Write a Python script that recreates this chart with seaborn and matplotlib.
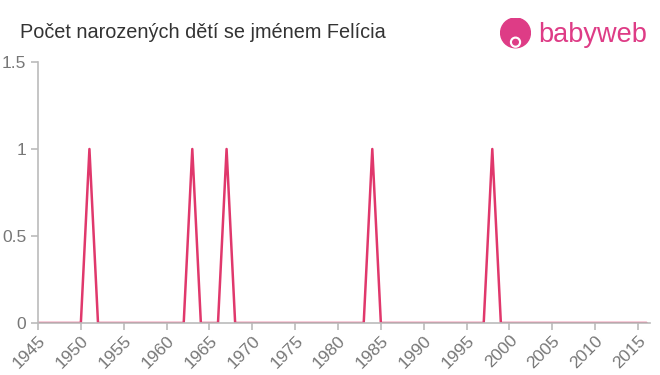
import matplotlib
matplotlib.use("Agg")
import matplotlib.pyplot as plt
import seaborn as sns
import pandas as pd
from matplotlib.patches import Circle

years = list(range(1945, 2017))
peak_years = [1951, 1963, 1967, 1984, 1998]
peak_values = [1, 1, 1, 1, 1]
counts = [peak_values[peak_years.index(y)] if y in peak_years else 0 for y in years]
xticks = list(range(1945, 2020, 5))
yticks = [0, 0.5, 1, 1.5]
ytick_labels = ["0", "0.5", "1", "1.5"]

df = pd.DataFrame({"rok": years, "pocet": counts})

sns.set_style("white")
plt.rcParams['font.family'] = ['Liberation Sans', 'DejaVu Sans']

fig = plt.figure(figsize=(6.6, 3.75), dpi=100)
ax = fig.add_axes([38/660, 1 - 323/375, (650-38)/660, (323-62)/375])

sns.lineplot(data=df, x="rok", y="pocet", ax=ax, color="#e0386c", linewidth=1.8)

ax.set_xlim(1945, 2016.4)
ax.set_ylim(0, 1.5)
ax.set_xticks(xticks)
ax.set_xticklabels([str(x) for x in xticks], rotation=45, ha="right", rotation_mode="anchor")
ax.set_yticks(yticks)
ax.set_yticklabels(ytick_labels)
ax.set_xlabel("")
ax.set_ylabel("")
for s in ["top", "right"]:
    ax.spines[s].set_visible(False)
for s in ["left", "bottom"]:
    ax.spines[s].set_color("#bbbbbb")
    ax.spines[s].set_linewidth(1.2)
ax.tick_params(axis="both", colors="#bbbbbb", labelcolor="#777777", labelsize=12.5,
               length=5, width=1.2, direction="out", left=True, bottom=True)
ax.tick_params(axis="x", pad=2)

fig.text(20/660, 1 - 32/375, "Počet narozených dětí se jménem Felícia", fontsize=14.3,
         color="#333333", va="center", ha="left")

# logo
logo_ax = fig.add_axes([500/660, 1 - 50/375, 31/660, 33/375])
logo_ax.set_xlim(0, 1); logo_ax.set_ylim(0, 1); logo_ax.axis("off")
logo_ax.set_aspect("equal")
logo_ax.add_patch(Circle((0.5, 0.52), 0.48, color="#de3c86"))
logo_ax.add_patch(Circle((0.5, 0.22), 0.16, color="white"))
logo_ax.add_patch(Circle((0.5, 0.22), 0.09, color="#de3c86"))
fig.text(538/660, 1 - 35/375, "babyweb", fontsize=19.5, color="#de3c86", va="center", ha="left")

fig.savefig("out.png", dpi=100)
